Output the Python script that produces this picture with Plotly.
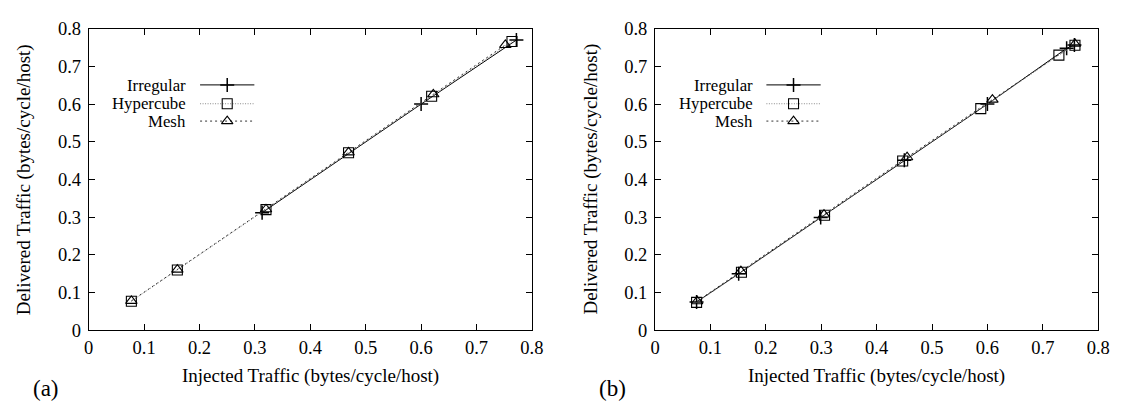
import plotly.graph_objects as go

# ---- data: panel (a) ----
a_irr_x = [0.313, 0.600, 0.772]
a_irr_y = [0.312, 0.600, 0.770]
a_hyp_x = [0.077, 0.160, 0.320, 0.469, 0.619, 0.764]
a_hyp_y = [0.077, 0.160, 0.320, 0.471, 0.621, 0.766]
a_mesh_x = [0.077, 0.160, 0.320, 0.469, 0.622, 0.752]
a_mesh_y = [0.078, 0.161, 0.321, 0.472, 0.626, 0.757]

# ---- data: panel (b) ----
b_irr_x = [0.075, 0.151, 0.299, 0.450, 0.600, 0.743, 0.757]
b_irr_y = [0.075, 0.150, 0.299, 0.451, 0.600, 0.748, 0.757]
b_hyp_x = [0.075, 0.156, 0.306, 0.447, 0.588, 0.729, 0.758]
b_hyp_y = [0.074, 0.154, 0.305, 0.449, 0.588, 0.730, 0.756]
b_mesh_x = [0.076, 0.155, 0.305, 0.455, 0.609, 0.758]
b_mesh_y = [0.077, 0.157, 0.307, 0.459, 0.612, 0.760]

tick_vals = [0, 0.1, 0.2, 0.3, 0.4, 0.5, 0.6, 0.7, 0.8]
tick_text = ["0", "0.1", "0.2", "0.3", "0.4", "0.5", "0.6", "0.7", "0.8"]

series_names = ["Irregular", "Hypercube", "Mesh"]

FONT = "Liberation Serif"
TEXT_SIZE = 19
TICK_SIZE = 18.5
KEY_SIZE = 16.8

styles = {
    "Irregular": dict(line=dict(color="black", width=1),
                      marker=dict(symbol="cross-thin", size=10, color="black",
                                  line=dict(color="black", width=1.5))),
    "Hypercube": dict(line=dict(color="#8a8a8a", width=1, dash="1px,1.5px"),
                      marker=dict(symbol="square-open", size=10, color="black",
                                  line=dict(color="black", width=1.1))),
    "Mesh": dict(line=dict(color="#333333", width=1, dash="2px,3px"),
                 marker=dict(symbol="triangle-up-open", size=10, color="black",
                             line=dict(color="black", width=1.1))),
}

fig = go.Figure()

panels = [
    ("x", "y", [(a_irr_x, a_irr_y), (a_hyp_x, a_hyp_y), (a_mesh_x, a_mesh_y)]),
    ("x2", "y2", [(b_irr_x, b_irr_y), (b_hyp_x, b_hyp_y), (b_mesh_x, b_mesh_y)]),
]

# legend key placement (data units inside each panel)
key_x0, key_x1, key_xm = 0.201, 0.299, 0.250
key_rows = [0.651, 0.601, 0.555]

for xa, ya, series in panels:
    for name, (xs, ys) in zip(series_names, series):
        st = styles[name]
        fig.add_trace(go.Scatter(x=xs, y=ys, mode="lines+markers", name=name,
                                 line=st["line"], marker=st["marker"],
                                 xaxis=xa, yaxis=ya, showlegend=False,
                                 cliponaxis=False))
    for name, ky in zip(series_names, key_rows):
        st = styles[name]
        fig.add_trace(go.Scatter(x=[key_x0, key_x1], y=[ky, ky], mode="lines",
                                 line=st["line"], xaxis=xa, yaxis=ya,
                                 showlegend=False, hoverinfo="skip"))
        fig.add_trace(go.Scatter(x=[key_xm], y=[ky], mode="markers",
                                 marker=st["marker"], xaxis=xa, yaxis=ya,
                                 showlegend=False, hoverinfo="skip"))

W, H = 1125, 410
xdom1 = [85 / W, 535 / W]
xdom2 = [660 / W, 1110 / W]
ydom = [(H - 336.7) / H, (H - 19.7) / H]

axis_common = dict(range=[0, 0.8], tickvals=tick_vals, ticktext=tick_text,
                   ticks="inside", ticklen=6, tickcolor="black", tickwidth=1,
                   showline=True, linecolor="black", linewidth=1,
                   mirror="ticks", showgrid=False, zeroline=False,
                   tickfont=dict(family=FONT, size=TICK_SIZE, color="black"))

annotations = []
for xdom, tag in [(xdom1, "(a)"), (xdom2, "(b)")]:
    cx = (xdom[0] + xdom[1]) / 2
    annotations.append(dict(x=cx, y=(H - 385) / H, xref="paper", yref="paper",
                            text="Injected Traffic (bytes/cycle/host)", showarrow=False,
                            font=dict(family=FONT, size=TEXT_SIZE, color="black"),
                            xanchor="center", yanchor="middle"))
    annotations.append(dict(x=xdom[0] - 66 / W, y=(ydom[0] + ydom[1]) / 2,
                            xref="paper", yref="paper", textangle=-90,
                            text="Delivered Traffic (bytes/cycle/host)", showarrow=False,
                            font=dict(family=FONT, size=TEXT_SIZE, color="black"),
                            xanchor="center", yanchor="middle"))
    annotations.append(dict(x=xdom[0] - 59 / W, y=(H - 398) / H, xref="paper", yref="paper",
                            text=tag, showarrow=False,
                            font=dict(family=FONT, size=23, color="black"),
                            xanchor="left", yanchor="middle"))
    for name, row_px in zip(series_names, [79, 98, 117]):
        annotations.append(dict(x=xdom[0] + 101 / W, y=(H - row_px) / H,
                                xref="paper", yref="paper", text=name, showarrow=False,
                                font=dict(family=FONT, size=KEY_SIZE, color="black"),
                                xanchor="right", yanchor="middle"))

fig.update_layout(
    width=W, height=H,
    margin=dict(l=0, r=0, t=0, b=0),
    paper_bgcolor="white", plot_bgcolor="white",
    showlegend=False,
    xaxis=dict(domain=xdom1, anchor="y", ticklabelstandoff=1, **axis_common),
    yaxis=dict(domain=ydom, anchor="x", ticklabelstandoff=3, **axis_common),
    xaxis2=dict(domain=xdom2, anchor="y2", ticklabelstandoff=1, **axis_common),
    yaxis2=dict(domain=ydom, anchor="x2", ticklabelstandoff=3, **axis_common),
    annotations=annotations,
)

fig.write_html("out.html")
